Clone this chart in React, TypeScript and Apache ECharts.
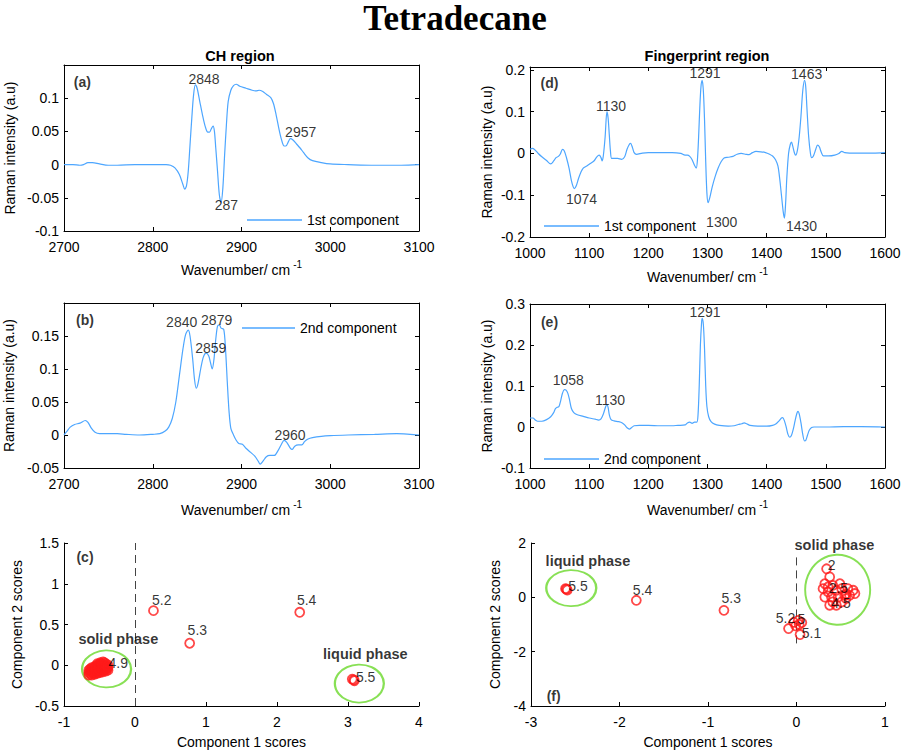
import React, { useEffect, useRef } from "react";
import * as echarts from "echarts";

// ---------------- DATA ----------------
// (a) CH region, 1st component  [wavenumber, intensity]
const CH_COMP1: number[][] = [
  [2700, 0], [2710, 0], [2718, -0.001], [2722, 0], [2727, 0.003], [2732, 0.003], [2740, 0.001], [2750, -0.001],
  [2760, -0.001], [2780, 0], [2800, 0], [2815, 0], [2820, -0.001], [2825, -0.005], [2830, -0.015], [2834, -0.03],
  [2836, -0.037], [2838, -0.032], [2840, -0.01], [2842, 0.03], [2844, 0.07], [2846, 0.105], [2848, 0.12],
  [2850, 0.115], [2853, 0.095], [2856, 0.075], [2859, 0.058], [2862, 0.049], [2864, 0.049], [2866, 0.054],
  [2868, 0.058], [2869.5, 0.05], [2871, 0.025], [2873, -0.01], [2875, -0.045], [2877, -0.057], [2879, -0.035],
  [2881, 0.015], [2883, 0.06], [2885, 0.095], [2888, 0.112], [2891, 0.119], [2894, 0.121], [2898, 0.118],
  [2905, 0.115], [2912, 0.112], [2916, 0.111], [2920, 0.112], [2924, 0.11], [2928, 0.106], [2933, 0.101],
  [2936, 0.092], [2939, 0.075], [2942, 0.055], [2945, 0.038], [2948, 0.028], [2950, 0.028], [2953, 0.035],
  [2955, 0.039], [2958, 0.037], [2962, 0.031], [2966, 0.025], [2970, 0.018], [2975, 0.01], [2980, 0.006],
  [2990, 0.003], [3000, 0.001], [3020, 0], [3050, -0.001], [3080, -0.001], [3100, 0],
];
// (b) CH region, 2nd component
const CH_COMP2: number[][] = [
  [2700, 0], [2703, 0.005], [2707, 0.012], [2712, 0.016], [2718, 0.018], [2724, 0.022], [2727, 0.019],
  [2731, 0.01], [2735, 0.004], [2740, 0.002], [2750, 0.002], [2760, 0.002], [2770, 0.001], [2785, 0],
  [2800, 0.001], [2808, 0.002], [2814, 0.006], [2818, 0.012], [2822, 0.025], [2826, 0.05], [2830, 0.09],
  [2834, 0.13], [2837, 0.152], [2840, 0.159], [2842, 0.15], [2845, 0.115], [2847, 0.085], [2849, 0.071],
  [2851, 0.078], [2854, 0.1], [2857, 0.118], [2860, 0.124], [2863, 0.12], [2865, 0.11], [2867, 0.1],
  [2869, 0.115], [2871, 0.145], [2873, 0.165], [2875, 0.167], [2877, 0.162], [2880, 0.16], [2882, 0.13],
  [2884, 0.08], [2886, 0.035], [2888, 0.01], [2891, 0], [2894, -0.008], [2897, -0.013], [2901, -0.014],
  [2905, -0.02], [2910, -0.026], [2915, -0.032], [2919, -0.04], [2921, -0.044], [2924, -0.04], [2928, -0.033],
  [2932, -0.031], [2937, -0.031], [2941, -0.024], [2945, -0.014], [2948, -0.008], [2951, -0.011], [2955, -0.02],
  [2957, -0.022], [2960, -0.017], [2964, -0.015], [2968, -0.015], [2971, -0.01], [2975, -0.006], [2980, -0.004],
  [2990, -0.002], [3000, -0.001], [3020, 0], [3050, 0.001], [3075, 0.002], [3090, 0.001], [3100, 0],
];
// (d) Fingerprint region, 1st component
const FP_COMP1: number[][] = [
  [1000, 0.01], [1004, 0.012], [1008, 0.009], [1014, 0], [1020, -0.008], [1028, -0.017], [1035, -0.025],
  [1040, -0.018], [1044, -0.01], [1048, -0.007], [1051, -0.002], [1055, 0.01], [1058, 0.006], [1062, -0.012],
  [1066, -0.035], [1070, -0.065], [1073, -0.08], [1075, -0.084], [1078, -0.078], [1082, -0.06], [1086, -0.045],
  [1090, -0.035], [1096, -0.03], [1102, -0.024], [1108, -0.018], [1113, -0.008], [1117, -0.004], [1120, -0.01],
  [1122, -0.018], [1124, -0.005], [1127, 0.04], [1130, 0.1], [1132, 0.085], [1134, 0.045], [1136, 0.005],
  [1138, -0.012], [1142, -0.012], [1148, -0.012], [1155, -0.014], [1160, -0.008], [1164, 0.01], [1168, 0.022],
  [1170, 0.024], [1173, 0.015], [1176, 0.002], [1180, -0.002], [1190, 0.001], [1200, 0.002], [1220, 0.002],
  [1240, 0.002], [1255, 0], [1262, -0.004], [1266, -0.004], [1270, -0.007], [1274, -0.015], [1278, -0.028],
  [1281, -0.035], [1283, -0.015], [1285, 0.04], [1287, 0.11], [1289, 0.16], [1291, 0.175], [1293, 0.15],
  [1295, 0.08], [1297, -0.02], [1299, -0.095], [1301, -0.118], [1304, -0.105], [1308, -0.08], [1313, -0.055],
  [1318, -0.035], [1323, -0.02], [1328, -0.011], [1335, -0.009], [1343, -0.007], [1350, -0.002], [1357, 0],
  [1365, -0.002], [1370, -0.003], [1376, 0.002], [1382, 0.005], [1390, 0.004], [1398, 0.002], [1405, -0.002],
  [1410, -0.006], [1415, -0.015], [1419, -0.03], [1422, -0.06], [1425, -0.1], [1428, -0.14], [1430, -0.155],
  [1432, -0.12], [1434, -0.06], [1437, 0], [1440, 0.022], [1442, 0.027], [1444, 0.018], [1447, 0.001],
  [1449, -0.004], [1452, 0.008], [1455, 0.04], [1458, 0.09], [1461, 0.15], [1464, 0.175], [1466, 0.16],
  [1468, 0.11], [1471, 0.04], [1474, 0], [1476, -0.01], [1479, -0.006], [1483, 0.01], [1486, 0.02],
  [1489, 0.016], [1492, 0.004], [1496, -0.006], [1505, -0.006], [1515, -0.004], [1522, 0], [1527, 0.005],
  [1532, 0.002], [1540, 0.001], [1560, 0.001], [1580, 0.001], [1600, 0.002],
];
// (e) Fingerprint region, 2nd component
const FP_COMP2: number[][] = [
  [1000, 0.022], [1005, 0.022], [1009, 0.017], [1013, 0.014], [1020, 0.014], [1028, 0.018], [1035, 0.025],
  [1040, 0.035], [1043, 0.045], [1046, 0.048], [1049, 0.05], [1052, 0.065], [1055, 0.083], [1058, 0.091],
  [1061, 0.09], [1064, 0.082], [1067, 0.065], [1070, 0.045], [1074, 0.035], [1080, 0.03], [1090, 0.026],
  [1100, 0.022], [1110, 0.019], [1116, 0.017], [1120, 0.02], [1124, 0.032], [1128, 0.05], [1130, 0.054],
  [1132, 0.048], [1134, 0.03], [1137, 0.018], [1142, 0.015], [1150, 0.013], [1156, 0.01], [1160, 0.005],
  [1164, -0.002], [1168, -0.005], [1172, -0.001], [1176, 0.003], [1185, 0.004], [1200, 0.004], [1220, 0.003],
  [1240, 0.003], [1250, 0.004], [1262, 0.005], [1266, 0.01], [1270, 0.012], [1274, 0.009], [1278, 0.012],
  [1282, 0.012], [1284, 0.03], [1286, 0.1], [1288, 0.2], [1290, 0.255], [1291, 0.265], [1293, 0.25],
  [1295, 0.19], [1297, 0.1], [1299, 0.05], [1302, 0.025], [1306, 0.013], [1312, 0.007], [1320, 0.004],
  [1335, 0.002], [1345, 0.003], [1352, 0.006], [1358, 0.008], [1362, 0.01], [1366, 0.008], [1372, 0.004],
  [1385, 0.002], [1400, 0.002], [1410, 0.004], [1416, 0.008], [1421, 0.015], [1425, 0.022], [1427, 0.023],
  [1430, 0.015], [1433, 0], [1436, -0.018], [1439, -0.025], [1442, -0.02], [1445, -0.005], [1448, 0.015],
  [1451, 0.033], [1453, 0.038], [1455, 0.032], [1458, 0.01], [1461, -0.018], [1464, -0.034], [1466, -0.033],
  [1469, -0.02], [1472, -0.008], [1476, -0.001], [1480, 0], [1500, 0], [1530, 0.001], [1560, 0.001], [1600, 0],
];

// (c) PCA scores of CH region [PC1, PC2]
const CH_SCORES: number[][] = [
  [-0.65, -0.12], [-0.65, -0.09], [-0.65, -0.06], [-0.63, -0.105], [-0.63, -0.075], [-0.63, -0.045],
  [-0.61, -0.12], [-0.61, -0.09], [-0.61, -0.06], [-0.61, -0.03], [-0.59, -0.1], [-0.59, -0.07], [-0.59, -0.04],
  [-0.57, -0.11], [-0.57, -0.08], [-0.57, -0.05], [-0.57, -0.02], [-0.55, -0.095], [-0.55, -0.065], [-0.55, -0.035],
  [-0.55, -0.005], [-0.53, -0.1], [-0.53, -0.07], [-0.53, -0.04], [-0.53, -0.01], [-0.53, 0.02],
  [-0.51, -0.08], [-0.51, -0.05], [-0.51, -0.02], [-0.51, 0.01], [-0.49, -0.09], [-0.49, -0.06], [-0.49, -0.03],
  [-0.49, 0], [-0.49, 0.03], [-0.47, -0.07], [-0.47, -0.04], [-0.47, -0.01], [-0.47, 0.02], [-0.45, -0.08],
  [-0.45, -0.05], [-0.45, -0.02], [-0.45, 0.01], [-0.45, 0.04], [-0.43, -0.06], [-0.43, -0.03], [-0.43, 0],
  [-0.43, 0.03], [-0.41, -0.07], [-0.41, -0.04], [-0.41, -0.01], [-0.41, 0.02], [-0.395, -0.045], [-0.395, -0.015],
  [-0.38, -0.06], [-0.38, -0.03], [-0.38, 0],
  [0.26, 0.67], [0.77, 0.27], [2.32, 0.65], [3.06, -0.17], [3.09, -0.19], [3.08, -0.18],
];
// (f) PCA scores of fingerprint region
const FP_SCORES: number[][] = [
  [-2.61, 0.32], [-2.59, 0.27], [-2.6, 0.3], [-1.81, -0.11], [-0.82, -0.48],
  [-0.09, -1.15], [-0.03, -0.92], [0.02, -0.85], [0.06, -0.93], [0.04, -1.37], [-0.01, -1.05], [0.03, -1.0],
  [0.34, 1.05], [0.375, 0.75], [0.32, 0.5], [0.3, 0.32], [0.357, 0.2], [0.32, 0.01], [0.41, 0.44], [0.45, 0.26],
  [0.51, 0.32], [0.58, 0.32], [0.64, 0.26], [0.6, 0.07], [0.545, 0.07], [0.47, 0.01], [0.41, -0.17],
  [0.375, -0.29], [0.45, -0.29], [0.51, -0.17], [0.56, -0.05], [0.395, 0.01], [0.357, 0.38], [0.56, 0.13],
  [0.66, 0.14], [0.49, 0.5],
];

// Phase ellipse centres [PC1, PC2]
const CH_ELLIPSES: number[][] = [[-0.4, -0.045], [3.16, -0.225]];
const FP_ELLIPSES: number[][] = [[0.465, 0.28], [-2.545, 0.34]];

// Text annotations [x, y, text]
const CH1_LABELS: [number, number, string][] = [[2857.7, 0.1286, "2848"], [2883, -0.0608, "287"], [2966.7, 0.0497, "2957"]];
const CH2_LABELS: [number, number, string][] = [[2832.6, 0.1714, "2840"], [2872, 0.175, "2879"], [2865.3, 0.1321, "2859"], [2954.6, 0.0005, "2960"]];
const FP1_LABELS: [number, number, string][] = [[1137, 0.1136, "1130"], [1295.8, 0.192, "1291"], [1467.6, 0.19, "1463"], [1087, -0.108, "1074"], [1324, -0.163, "1300"], [1459, -0.173, "1430"]];
const FP2_LABELS: [number, number, string][] = [[1064.8, 0.1148, "1058"], [1135.2, 0.0656, "1130"], [1295.8, 0.28, "1291"]];
const CHS_LABELS: [number, number, string][] = [[0.376, 0.806, "5.2"], [0.878, 0.438, "5.3"], [2.418, 0.798, "5.4"], [3.249, -0.143, "5.5"], [-0.235, 0.029, "4.9"]];
const FPS_LABELS: [number, number, string][] = [[-2.469, 0.405, "5.5"], [-1.739, 0.282, "5.4"], [-0.738, -0.025, "5.3"], [0.398, 1.178, "2"], [0.473, 0.33, "2.5"], [0.503, -0.22, "4.5"], [-0.125, -0.761, "5.2"], [0.055, -0.8, "5"], [0.17, -1.32, "5.1"]];
const CHS_PHASES: [number, number, string][] = [[-0.235, 0.327, "solid phase"], [3.244, 0.143, "liquid phase"]];
const FPS_PHASES: [number, number, string][] = [[-2.357, 1.325, "liquid phase"], [0.428, 1.914, "solid phase"]];
const PANEL_TAGS: [number, number, string][][] = [
  [[2720.7, 0.1246, "(a)"]], [[2723.7, 0.1735, "(b)"]], [[-0.704, 1.329, "(c)"]],
  [[1033, 0.168, "(d)"]], [[1033, 0.2566, "(e)"]], [[-2.744, -3.644, "(f)"]],
];
// Dashed zero lines [[x, y1], [x, y2]]
const CH_ZERO_LINE: number[][] = [[0, -0.5], [0, 1.5]];
const FP_ZERO_LINE: number[][] = [[0, 1.47], [0, -1.88]];

// ---------------- STYLE ----------------
const FONT = "'Liberation Sans', Arial, Helvetica, sans-serif";
const BLUE = "#4da6ff";
const RED = "#ff1a1a";
const GREEN = "#6ad82a";
const CH_ELLIPSE_SIZES = [[49, 37], [49, 38]];
const FP_ELLIPSE_SIZES = [[65, 70], [50, 36]];

const WAVE = "{n|Wavenumber/ cm}{s|-1}";
const GRIDS = [
  { left: 64, top: 65, width: 355, height: 166 },
  { left: 64, top: 303, width: 355, height: 165 },
  { left: 64, top: 543, width: 355, height: 163 },
  { left: 530, top: 67, width: 355, height: 170 },
  { left: 530, top: 304, width: 355, height: 164 },
  { left: 531, top: 543, width: 354, height: 163 },
];
const PANELS = [
  { x: [2700, 3100, 100], y: [-0.1, 0.15, 0.05], box: true, hideMax: true, xName: WAVE, yName: "Raman intensity (a.u)", xGap: 28, yGap: 47 },
  { x: [2700, 3100, 100], y: [-0.05, 0.2, 0.05], box: true, hideMax: true, xName: WAVE, yName: "Raman intensity (a.u)", xGap: 31, yGap: 48 },
  { x: [-1, 4, 1], y: [-0.5, 1.5, 0.5], box: false, hideMax: false, xName: "Component 1 scores", yName: "Component 2 scores", xGap: 29, yGap: 40 },
  { x: [1000, 1600, 100], y: [-0.2, 0.207, 0.1], box: true, hideMax: true, xName: WAVE, yName: "Raman intensity (a.u)", xGap: 29, yGap: 36 },
  { x: [1000, 1600, 100], y: [-0.1, 0.3, 0.1], box: true, hideMax: false, xName: WAVE, yName: "Raman intensity (a.u)", xGap: 31, yGap: 36 },
  { x: [-3, 1, 1], y: [-4, 2, 2], box: false, hideMax: false, xName: "Component 1 scores", yName: "Component 2 scores", xGap: 29, yGap: 29 },
];
const LEGENDS = [
  { name: "1st component", left: 247, top: 213, w: 55 },
  { name: "2nd component", left: 242, top: 321, w: 53 },
  { name: "1st component", left: 544, top: 219, w: 55 },
  { name: "2nd component", left: 544, top: 452, w: 55 },
];

const nameStyle = {
  fontSize: 14, color: "#000", fontFamily: FONT,
  rich: {
    n: { fontSize: 14, lineHeight: 22, color: "#000", fontFamily: FONT },
    s: { fontSize: 10, lineHeight: 12, verticalAlign: "top", padding: [0, 0, 0, 3], color: "#000", fontFamily: FONT },
  },
};

function mkX(p: any, i: number, position: string, primary: boolean) {
  return {
    type: "value", gridIndex: i, position, min: p.x[0], max: p.x[1], interval: p.x[2],
    name: primary ? p.xName : "", nameLocation: "middle", nameGap: p.xGap, nameTextStyle: nameStyle,
    axisLine: { show: true, onZero: false, lineStyle: { color: "#000", width: 1 } },
    axisTick: { show: true, inside: true, length: 4, lineStyle: { color: "#000", width: 1 } },
    axisLabel: { show: primary, margin: 9, color: "#000", fontSize: 14, fontFamily: FONT, formatter: (v: number) => String(v) },
    splitLine: { show: false },
  };
}
function mkY(p: any, i: number, position: string, primary: boolean) {
  return {
    type: "value", gridIndex: i, position, min: p.y[0], max: p.y[1], interval: p.y[2],
    name: primary ? p.yName : "", nameLocation: "middle", nameGap: p.yGap,
    nameTextStyle: { fontSize: 14, color: "#000", fontFamily: FONT },
    axisLine: { show: true, onZero: false, lineStyle: { color: "#000", width: 1 } },
    axisTick: { show: true, inside: true, length: 4, lineStyle: { color: "#000", width: 1 } },
    axisLabel: { show: primary, margin: 5, color: "#000", fontSize: 14, fontFamily: FONT, showMaxLabel: p.hideMax ? false : true },
    splitLine: { show: false },
  };
}

function textSeries(idx: number, items: [number, number, string][], bold: boolean, size = 14) {
  return {
    type: "scatter", xAxisIndex: idx, yAxisIndex: idx, symbol: "circle", symbolSize: 0, silent: true, z: 20,
    clip: false,
    itemStyle: { color: "rgba(0,0,0,0)" },
    data: items.map(([x, y, t]) => ({ value: [x, y], name: t })),
    label: {
      show: true, position: "inside", formatter: "{b}", color: "#000", fontSize: size,
      fontFamily: FONT, fontWeight: bold ? "bold" : "normal",
    },
  };
}
function lineSeries(idx: number, name: string, data: number[][]) {
  return {
    type: "line", name, xAxisIndex: idx, yAxisIndex: idx, data, symbol: "none", showSymbol: false, smooth: 0.3,
    lineStyle: { color: BLUE, width: 1.2 }, itemStyle: { color: BLUE }, silent: true, z: 3,
  };
}
function pointSeries(idx: number, data: number[][], line: number[][]) {
  return {
    type: "scatter", xAxisIndex: idx, yAxisIndex: idx, data, symbol: "circle", symbolSize: 9, silent: true, z: 5,
    itemStyle: { color: "rgba(0,0,0,0)", borderColor: RED, borderWidth: 1.8 },
    markLine: {
      silent: true, symbol: ["none", "none"], label: { show: false },
      lineStyle: { color: "#444", type: [8, 5], width: 1 },
      data: [[{ coord: line[0] }, { coord: line[1] }]],
    },
  };
}
function ellipseSeries(idx: number, centres: number[][], sizes: number[][]) {
  return {
    type: "scatter", xAxisIndex: idx, yAxisIndex: idx, symbol: "circle", silent: true, z: 4,
    data: centres.map((c, k) => ({ value: c, symbolSize: sizes[k] })),
    itemStyle: { color: "rgba(0,0,0,0)", borderColor: GREEN, borderWidth: 2 },
  };
}

function buildOption() {
  const xAxis: any[] = [];
  const yAxis: any[] = [];
  PANELS.forEach((p, i) => { xAxis.push(mkX(p, i, "bottom", true)); yAxis.push(mkY(p, i, "left", true)); });
  PANELS.forEach((p, i) => { if (p.box) { xAxis.push(mkX(p, i, "top", false)); yAxis.push(mkY(p, i, "right", false)); } });

  const series: any[] = [
    lineSeries(0, "1st component", CH_COMP1),
    lineSeries(1, "2nd component", CH_COMP2),
    lineSeries(3, "1st component", FP_COMP1),
    lineSeries(4, "2nd component", FP_COMP2),
    ellipseSeries(2, CH_ELLIPSES, CH_ELLIPSE_SIZES),
    ellipseSeries(5, FP_ELLIPSES, FP_ELLIPSE_SIZES),
    pointSeries(2, CH_SCORES, CH_ZERO_LINE),
    pointSeries(5, FP_SCORES, FP_ZERO_LINE),
    textSeries(0, CH1_LABELS, false),
    textSeries(1, CH2_LABELS, false),
    textSeries(3, FP1_LABELS, false),
    textSeries(4, FP2_LABELS, false),
    textSeries(2, CHS_LABELS, false),
    textSeries(5, FPS_LABELS, false),
    textSeries(2, CHS_PHASES, true, 14.5),
    textSeries(5, FPS_PHASES, true, 14.5),
  ];
  PANEL_TAGS.forEach((t, i) => series.push(textSeries(i, t, true)));

  return {
    animation: false,
    backgroundColor: "#fff",
    textStyle: { fontFamily: FONT },
    grid: GRIDS.map((g) => ({ ...g, containLabel: false, outerBoundsMode: "none" })),
    xAxis,
    yAxis,
    legend: LEGENDS.map((l) => ({
      data: [l.name], left: l.left, top: l.top, padding: 0, icon: "rect",
      itemWidth: l.w, itemHeight: 1.4, itemGap: 5,
      textStyle: { fontSize: 14, color: "#000", fontFamily: FONT },
    })),
    graphic: [
      { type: "text", x: 455, y: 18, style: { text: "Tetradecane", font: "bold 35px 'Liberation Serif', 'Times New Roman', serif", fill: "#000", align: "center", verticalAlign: "middle" } },
      { type: "text", x: 240, y: 56, style: { text: "CH region", font: `bold 14.5px ${FONT}`, fill: "#000", align: "center", verticalAlign: "middle" } },
      { type: "text", x: 707, y: 56, style: { text: "Fingerprint region", font: `bold 14.5px ${FONT}`, fill: "#000", align: "center", verticalAlign: "middle" } },
    ],
    series,
  };
}

export default function App() {
  const ref = useRef<HTMLDivElement>(null);
  useEffect(() => {
    document.body.style.margin = "0";
    if (!ref.current) return;
    const chart = echarts.init(ref.current, null, { renderer: "svg" });
    chart.setOption(buildOption() as any);
    return () => chart.dispose();
  }, []);
  return <div ref={ref} style={{ width: 904, height: 754, background: "#fff" }} />;
}
